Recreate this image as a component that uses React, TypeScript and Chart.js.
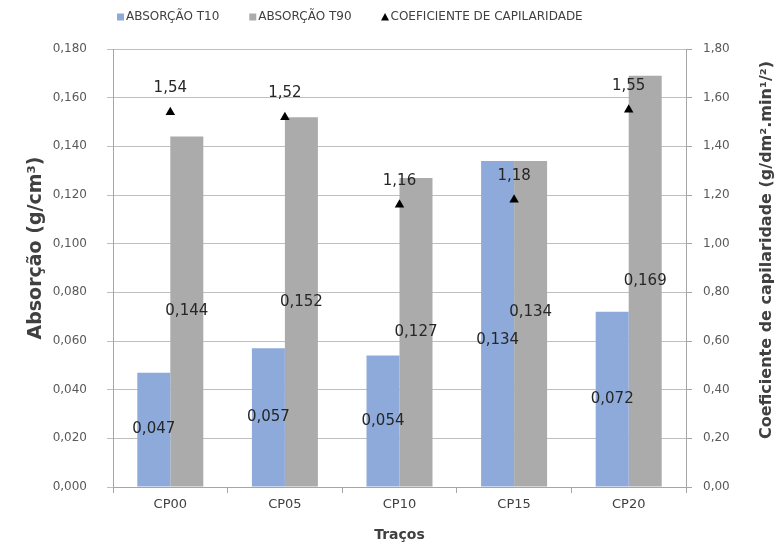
import React, { useEffect, useRef } from "react";
import { Chart, registerables } from "chart.js";

Chart.register(...registerables);

const categories = ["CP00", "CP05", "CP10", "CP15", "CP20"];
const absorcaoT10 = [0.047, 0.057, 0.054, 0.134, 0.072];
const absorcaoT90 = [0.144, 0.152, 0.127, 0.134, 0.169];
const coefCapilaridade = [1.54, 1.52, 1.16, 1.18, 1.55];

const seriesNames = ["ABSORÇÃO T10", "ABSORÇÃO T90", "COEFICIENTE DE CAPILARIDADE"];
const leftTitle = "Absorção (g/cm³)";
const rightTitle = "Coeficiente de capilaridade (g/dm².min¹/²)";
const xTitle = "Traços";

const BLUE = "#8EAADB";
const GRAY = "#ABABAB";
const FONT = "'DejaVu Sans', sans-serif";

const fmt3 = (v: number) => v.toFixed(3).replace(".", ",");
const fmt2 = (v: number) => v.toFixed(2).replace(".", ",");

export default function App() {
  const ref = useRef<HTMLCanvasElement>(null);

  useEffect(() => {
    document.body.style.margin = "0";
    const canvas = ref.current;
    if (!canvas) return;

    const labelsPlugin = {
      id: "valueLabels",
      afterDatasetsDraw(chart: any) {
        const ctx = chart.ctx;
        ctx.save();
        ctx.font = `15px ${FONT}`;
        ctx.fillStyle = "#262626";
        ctx.textAlign = "center";
        ctx.textBaseline = "middle";
        const m0 = chart.getDatasetMeta(0);
        const m1 = chart.getDatasetMeta(1);
        m0.data.forEach((el0: any, i: number) => {
          const el1: any = m1.data[i];
          let y0 = (el0.y + el0.base) / 2;
          let y1 = (el1.y + el1.base) / 2;
          // avoid collisions between the paired labels
          if (Math.abs(y0 - y1) < 22) {
            const mid = (y0 + y1) / 2;
            y0 = mid + 16;
            y1 = mid - 12;
          }
          ctx.fillText(fmt3(absorcaoT10[i]), el0.x, y0);
          ctx.fillText(fmt3(absorcaoT90[i]), el1.x, y1);
        });
        const m2 = chart.getDatasetMeta(2);
        m2.data.forEach((el: any, i: number) => {
          ctx.fillText(fmt2(coefCapilaridade[i]), el.x, el.y - 24);
        });
        ctx.restore();
      },
      afterDraw(chart: any) {
        const ctx = chart.ctx;
        const ca = chart.chartArea;
        ctx.save();
        // legend
        ctx.font = `12px ${FONT}`;
        ctx.textBaseline = "middle";
        ctx.textAlign = "left";
        let x = ca.left + 4;
        const ly = 17;
        const colors = [BLUE, GRAY, "#000000"];
        seriesNames.forEach((name, i) => {
          if (i < 2) {
            ctx.fillStyle = colors[i];
            ctx.fillRect(x, ly - 3.5, 7, 7);
          } else {
            ctx.fillStyle = "#000";
            ctx.beginPath();
            ctx.moveTo(x + 3.5, ly - 4);
            ctx.lineTo(x + 7.5, ly + 3.5);
            ctx.lineTo(x - 0.5, ly + 3.5);
            ctx.closePath();
            ctx.fill();
          }
          ctx.fillStyle = "#404040";
          ctx.fillText(name, x + 9, ly);
          x += 9 + ctx.measureText(name).width + 30;
        });
        // left title
        ctx.fillStyle = "#404040";
        ctx.textAlign = "center";
        ctx.font = `bold 19px ${FONT}`;
        ctx.save();
        ctx.translate(ca.left - 77, (ca.top + ca.bottom) / 2 - 20);
        ctx.rotate(-Math.PI / 2);
        ctx.fillText(leftTitle, 0, 0);
        ctx.restore();
        // right title
        ctx.font = `bold 16px ${FONT}`;
        ctx.save();
        ctx.translate(ca.right + 81, (ca.top + ca.bottom) / 2 - 18);
        ctx.rotate(-Math.PI / 2);
        ctx.fillText(rightTitle, 0, 0);
        ctx.restore();
        ctx.restore();
      },
    };

    const chart = new Chart(canvas, {
      type: "bar",
      data: {
        labels: categories,
        datasets: [
          {
            type: "bar",
            label: seriesNames[0],
            data: absorcaoT10,
            backgroundColor: BLUE,
            yAxisID: "y",
            order: 1,
            categoryPercentage: 0.576,
            barPercentage: 1,
          },
          {
            type: "bar",
            label: seriesNames[1],
            data: absorcaoT90,
            backgroundColor: GRAY,
            yAxisID: "y",
            order: 1,
            categoryPercentage: 0.576,
            barPercentage: 1,
          },
          {
            type: "line",
            label: seriesNames[2],
            data: coefCapilaridade,
            yAxisID: "y1",
            showLine: false,
            pointStyle: "triangle",
            pointRadius: 5.5,
            backgroundColor: "#000",
            borderColor: "#000",
            borderWidth: 0,
            order: 0,
          } as any,
        ],
      },
      options: {
        animation: false,
        responsive: true,
        maintainAspectRatio: false,
        layout: { padding: { top: 49, left: 0, right: 0, bottom: 0 } },
        plugins: {
          legend: { display: false },
          tooltip: { enabled: false },
        },
        scales: {
          x: {
            grid: {
              display: true,
              drawOnChartArea: false,
              drawTicks: true,
              tickLength: 6,
              color: "#A6A6A6",
              offset: true,
            },
            border: { color: "#A6A6A6" },
            ticks: { font: { family: FONT, size: 13 }, color: "#404040", padding: 4 },
            title: {
              display: true,
              text: xTitle,
              font: { family: FONT, size: 14, weight: "bold" },
              color: "#404040",
              padding: { top: 0, bottom: 5 },
            },
            afterFit: (s: any) => {
              s.height = 62;
            },
          },
          y: {
            position: "left",
            min: 0,
            max: 0.18,
            ticks: {
              stepSize: 0.02,
              callback: (v: any) => fmt3(Number(v)),
              font: { family: FONT, size: 12 },
              color: "#595959",
              padding: 20,
            },
            grid: { color: "#BFBFBF", tickLength: 6 },
            border: { color: "#A6A6A6" },
            afterFit: (s: any) => {
              s.width = 113;
            },
          },
          y1: {
            position: "right",
            min: 0,
            max: 1.8,
            ticks: {
              stepSize: 0.2,
              callback: (v: any) => fmt2(Number(v)),
              font: { family: FONT, size: 12 },
              color: "#595959",
              padding: 11,
            },
            grid: { drawOnChartArea: false, color: "#A6A6A6", tickLength: 6 },
            border: { color: "#A6A6A6" },
            afterFit: (s: any) => {
              s.width = 97;
            },
          },
        },
      } as any,
      plugins: [labelsPlugin],
    });

    return () => chart.destroy();
  }, []);

  return (
    <div style={{ width: 783, height: 549, position: "relative", background: "#fff" }}>
      <canvas ref={ref} />
    </div>
  );
}
